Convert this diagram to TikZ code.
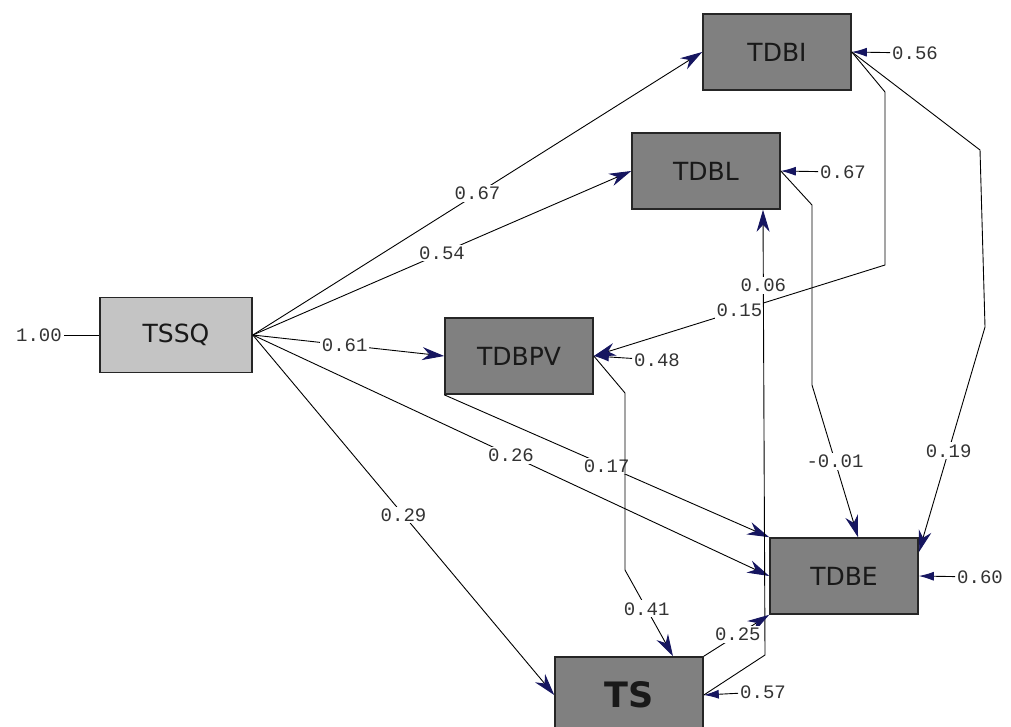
\documentclass[tikz,border=0pt]{standalone}
\usepackage{fontspec}
\setmainfont{DejaVu Sans}
\newfontfamily\coeffont{Liberation Mono}
\usepackage{tikz}
\usetikzlibrary{arrows.meta}
\definecolor{tipblue}{RGB}{22,22,96}
\definecolor{endogray}{RGB}{128,128,128}
\definecolor{exogray}{RGB}{196,196,196}

\begin{document}
\begin{tikzpicture}[x=1pt, y=-1pt,
		var/.style={draw=black!85, line width=1.6pt, fill=endogray, text=black!90, minimum width=148pt, minimum height=76pt, inner sep=0pt, font=\fontsize{25}{27}\selectfont},
		coef/.style={fill=white, inner sep=2pt, text=black!80, font=\coeffont\fontsize{19}{20}\selectfont},
		effect/.style={line width=0.9pt, arrows={-Stealth[length=22pt, width=13pt, inset=7pt, color=tipblue]}},
		errarrow/.style={line width=0.9pt, arrows={-Latex[length=15pt, width=9pt, color=tipblue]}}]
				\clip (0,0) rectangle (1011,726);
				\fill [white] (0,0) rectangle (1011,726);
				\node [var, fill=exogray, minimum width=152pt, minimum height=75pt] (TSSQ) at (176,335) {TSSQ};
				\node [var] (TDBI) at (777,52) {TDBI};
				\node [var] (TDBL) at (706,171) {TDBL};
				\node [var] (TDBPV) at (519,356) {TDBPV};
				\node [var] (TDBE) at (844,576) {TDBE};
				\node [var, font=\bfseries\fontsize{35}{37}\selectfont] (TS) at (629,695) {TS};
				\node [coef, anchor=east] (eTSSQ) at (64,335) {1.00};
				\node [coef, anchor=west] (eTDBI) at (890,53) {0.56};
				\node [coef, anchor=west] (eTDBL) at (818,172) {0.67};
				\node [coef, anchor=west] (eTDBPV) at (632,360) {0.48};
				\node [coef, anchor=west] (eTDBE) at (955,577) {0.60};
				\node [coef, anchor=west] (eTS) at (738,692) {0.57};
				\draw [line width=0.9pt] (eTSSQ) -- (TSSQ.west);
				\foreach \e/\v in {eTDBI/TDBI, eTDBL/TDBL, eTDBPV/TDBPV, eTDBE/TDBE, eTS/TS}
				\draw [errarrow] (\e) -- (\v.east);
				\draw [effect] (TSSQ.east) -- node [coef] {0.67} (TDBI.west);
				\draw [effect] (TSSQ.east) -- node [coef] {0.54} (TDBL.west);
				\draw [effect] (TSSQ.east) -- node [coef, pos=0.48] {0.61} (TDBPV.west);
				\draw [effect] (TSSQ.east) -- node [coef] {0.26} (TDBE.west);
				\draw [effect] (TSSQ.east) -- node [coef] {0.29} (TS.west);
				\draw [effect] (TDBPV.south west) -- node [coef] {0.17} (TDBE.north west);
				\draw [effect] (TDBPV.east) -- (625,393) -- (625,570) -- node [coef, pos=0.45] {0.41} ([xshift=44pt]TS.north);
				\draw [effect] (TDBI.east) -- (885,92) -- (885,265) -- node [coef] {0.15} (TDBPV.east);
				\draw [effect] (TDBI.east) -- (980,150) -- (985,327) -- node [coef, pos=0.55] {0.19} ([yshift=-15pt]TDBE.north east);
				\draw [effect] (TDBL.east) -- (812,205) -- (812,385) -- node [coef] {-0.01} ([xshift=14pt]TDBE.north);
				\draw [effect] (TS.east) -- (765,655) -- node [coef, pos=0.83] {0.06} ([xshift=57pt]TDBL.south);
				\draw [effect] (TS.north east) -- node [coef, pos=0.52] {0.25} (TDBE.south west);
			\end{tikzpicture}
\end{document}
